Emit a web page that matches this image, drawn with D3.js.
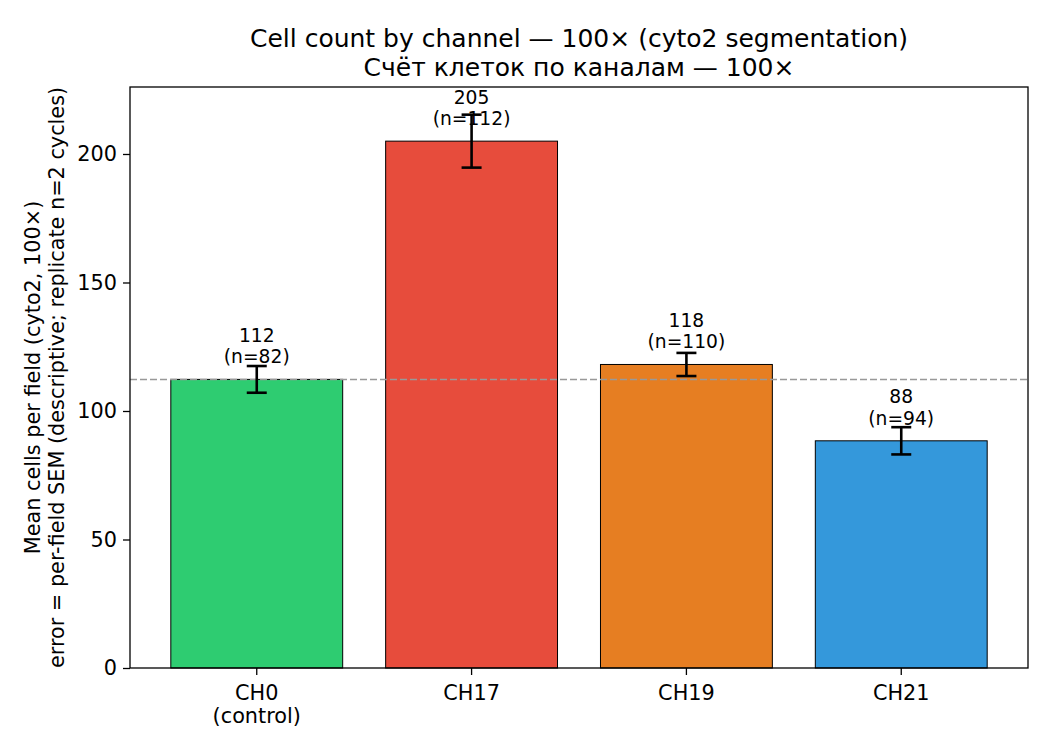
<!DOCTYPE html>
<html>
<head>
<meta charset="utf-8">
<script src="https://cdn.jsdelivr.net/npm/d3@7"></script>
<style>
  body { margin: 0; background: #fff; }
  svg { font-family: "DejaVu Sans", sans-serif; }
</style>
</head>
<body>
<div id="chart"></div>
<script>
"use strict";

// data
const channels = ["CH0", "CH17", "CH19", "CH21"];
const tickLines = [["CH0", "(control)"], ["CH17"], ["CH19"], ["CH21"]];
const means = [112.3, 205.0, 118.1, 88.4];
const sems = [5.2, 10.3, 4.5, 5.3];
const fieldCounts = [82, 112, 110, 94];
const barColors = ["#2ecc71", "#e74c3c", "#e67e22", "#3498db"];
const yTicks = [0, 50, 100, 150, 200];

(function () {
    const width = 1050;
    const height = 750;
    const margin = { top: 87, right: 22, bottom: 82, left: 130 };
    const plotW = width - margin.left - margin.right;
    const plotH = height - margin.top - margin.bottom;

    const svg = d3.select("#chart")
        .append("svg")
        .attr("width", width)
        .attr("height", height);

    const yMax = d3.max(means.map((m, i) => m + sems[i])) * 1.05;

    // band scale mimicking matplotlib's xlim [-0.59, 3.59] with width 0.8
    const step = plotW / (channels.length - 1 + 2 * 0.59);
    const x = d3.scaleBand()
        .domain(channels)
        .range([margin.left + (0.59 - 0.5) * step, margin.left + plotW - (0.59 - 0.5) * step])
        .paddingInner(0.2)
        .paddingOuter(0.1);

    const y = d3.scaleLinear()
        .domain([0, yMax])
        .range([margin.top + plotH, margin.top]);

    const g = svg.append("g");

    // bars
    g.selectAll("rect.bar")
        .data(channels)
        .enter()
        .append("rect")
        .attr("class", "bar")
        .attr("x", d => x(d))
        .attr("width", x.bandwidth())
        .attr("y", (d, i) => y(means[i]))
        .attr("height", (d, i) => y(0) - y(means[i]))
        .attr("fill", (d, i) => barColors[i])
        .attr("stroke", "#000")
        .attr("stroke-width", 1);

    // control reference line
    g.append("line")
        .attr("x1", margin.left)
        .attr("x2", margin.left + plotW)
        .attr("y1", y(means[0]))
        .attr("y2", y(means[0]))
        .attr("stroke", "#999")
        .attr("stroke-width", 1.5)
        .attr("stroke-dasharray", "7,3");

    // error bars
    const capHalf = 10;
    const err = g.selectAll("g.err")
        .data(channels)
        .enter()
        .append("g")
        .attr("class", "err")
        .attr("stroke", "#000")
        .attr("stroke-width", 2.6);

    err.append("line")
        .attr("x1", d => x(d) + x.bandwidth() / 2)
        .attr("x2", d => x(d) + x.bandwidth() / 2)
        .attr("y1", (d, i) => y(means[i] - sems[i]))
        .attr("y2", (d, i) => y(means[i] + sems[i]));

    [-1, 1].forEach(function (s) {
        err.append("line")
            .attr("x1", d => x(d) + x.bandwidth() / 2 - capHalf)
            .attr("x2", d => x(d) + x.bandwidth() / 2 + capHalf)
            .attr("y1", (d, i) => y(means[i] + s * sems[i]))
            .attr("y2", (d, i) => y(means[i] + s * sems[i]));
    });

    // value labels
    const lbl = g.selectAll("text.val")
        .data(channels)
        .enter()
        .append("text")
        .attr("class", "val")
        .attr("text-anchor", "middle")
        .attr("font-size", "18.7px")
        .attr("fill", "#000");

    lbl.append("tspan")
        .attr("x", d => x(d) + x.bandwidth() / 2)
        .attr("y", (d, i) => y(means[i]) - 16 - 21.5)
        .text((d, i) => Math.round(means[i]));

    lbl.append("tspan")
        .attr("x", d => x(d) + x.bandwidth() / 2)
        .attr("y", (d, i) => y(means[i]) - 16)
        .text((d, i) => `(n=${fieldCounts[i]})`);

    // y axis
    const yAxis = svg.append("g")
        .attr("transform", `translate(${margin.left},0)`)
        .call(d3.axisLeft(y).tickValues(yTicks).tickSize(7).tickPadding(6));
    yAxis.select(".domain").remove();
    yAxis.selectAll("text").attr("font-size", "20.8px").attr("font-family", "DejaVu Sans").attr("fill", "#000");
    yAxis.selectAll("line").attr("stroke-width", 1.3);

    // x axis
    const xAxis = svg.append("g")
        .attr("transform", `translate(0,${margin.top + plotH})`)
        .call(d3.axisBottom(x).tickSize(7).tickPadding(6).tickFormat(""));
    xAxis.select(".domain").remove();
    xAxis.selectAll("line").attr("stroke-width", 1.3);

    xAxis.selectAll(".tick").each(function (d, i) {
        const t = d3.select(this).append("text")
            .attr("fill", "#000")
            .attr("text-anchor", "middle")
            .attr("font-size", "20.8px")
            .attr("font-family", "DejaVu Sans");
        tickLines[i].forEach(function (line, j) {
            t.append("tspan")
                .attr("x", 0)
                .attr("y", 32 + j * 23)
                .text(line);
        });
    });

    // frame
    svg.append("rect")
        .attr("x", margin.left)
        .attr("y", margin.top)
        .attr("width", plotW)
        .attr("height", plotH)
        .attr("fill", "none")
        .attr("stroke", "#000")
        .attr("stroke-width", 1.3);

    // title
    const title = svg.append("text")
        .attr("text-anchor", "middle")
        .attr("font-size", "25px")
        .attr("fill", "#000");
    title.append("tspan")
        .attr("x", margin.left + plotW / 2)
        .attr("y", 47)
        .text("Cell count by channel — 100× (cyto2 segmentation)");
    title.append("tspan")
        .attr("x", margin.left + plotW / 2)
        .attr("y", 76)
        .text("Счёт клеток по каналам — 100×");

    // y label
    const cy = margin.top + plotH / 2;
    const ylab = svg.append("text")
        .attr("text-anchor", "middle")
        .attr("font-size", "20.8px")
        .attr("fill", "#000")
        .attr("transform", `translate(0,${cy}) rotate(-90)`);
    ylab.append("tspan")
        .attr("x", 0)
        .attr("y", 40)
        .text("Mean cells per field (cyto2, 100×)");
    ylab.append("tspan")
        .attr("x", 0)
        .attr("y", 64)
        .text("error = per-field SEM (descriptive; replicate n=2 cycles)");
})();
</script>
</body>
</html>
